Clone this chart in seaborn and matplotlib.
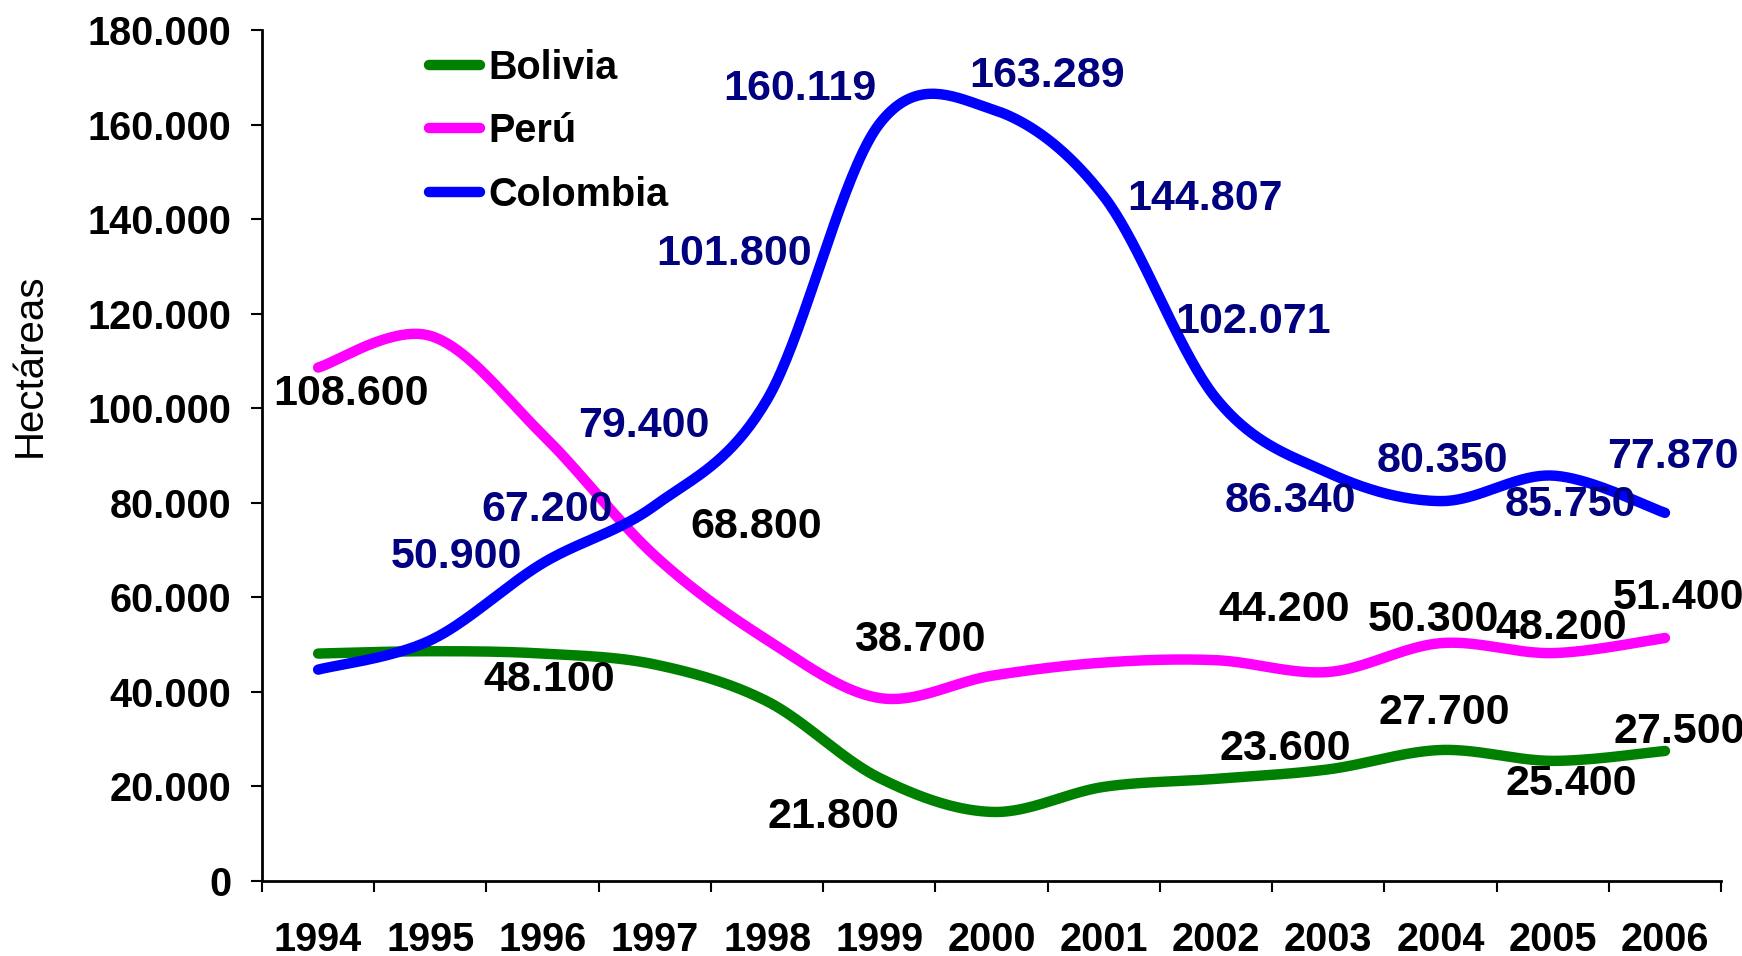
import numpy as np
import pandas as pd
import matplotlib
matplotlib.use("Agg")
import matplotlib.pyplot as plt
import seaborn as sns

# Coca cultivation (hectares) in the Andean countries
years = ['1994', '1995', '1996', '1997', '1998', '1999', '2000',
         '2001', '2002', '2003', '2004', '2005', '2006']
bolivia = [48100, 48600, 48100, 45800, 38000, 21800, 14600,
           19900, 21600, 23600, 27700, 25400, 27500]
peru = [108600, 115300, 94400, 68800, 51000, 38700, 43400,
        46200, 46700, 44200, 50300, 48200, 51400]
colombia = [44700, 50900, 67200, 79400, 101800, 160119, 163289,
            144807, 102071, 86340, 80350, 85750, 77870]

countries = ['Bolivia', 'Perú', 'Colombia']
series = [bolivia, peru, colombia]
colors = ['#008000', '#FF00FF', '#0000FF']
label_colors = ['black', 'black', '#000080']

# which points carry a data label, with label offsets in points (dx, dy)
bolivia_labels = {2: (5, -19), 5: (-33, -28), 9: (-31, 15), 10: (3, 27),
                  11: (13, -17), 12: (10, 14)}
peru_labels = {0: (24, -19), 3: (73, 21), 5: (29, 42), 9: (-32, 45),
               10: (-5, 17), 11: (6, 18), 12: (10, 29)}
colombia_labels = {1: (19, 60), 2: (3, 38), 3: (-8, 57), 4: (-24, 105),
                   5: (-57, 25), 6: (40, 24), 7: (73, -2), 8: (27, 55),
                   9: (-27, -20), 10: (1, 29), 11: (13, -21), 12: (6, 40)}
all_labels = [bolivia_labels, peru_labels, colombia_labels]


def smooth(vals, n=40):
    # Catmull-Rom curve through the points (like Excel's smoothed line)
    p = np.asarray(vals, dtype=float)
    x = np.arange(len(p), dtype=float)
    pp = np.concatenate([[p[0]], p, [p[-1]]])
    xx = np.concatenate([[x[0]], x, [x[-1]]])
    t = np.linspace(0, 1, n, endpoint=False)
    xs, ys = [], []
    for i in range(len(p) - 1):
        for arr, out in ((xx, xs), (pp, ys)):
            p0, p1, p2, p3 = arr[i], arr[i + 1], arr[i + 2], arr[i + 3]
            m1 = (p2 - p0) / 2
            m2 = (p3 - p1) / 2
            h00 = 2 * t**3 - 3 * t**2 + 1
            h10 = t**3 - 2 * t**2 + t
            h01 = -2 * t**3 + 3 * t**2
            h11 = t**3 - t**2
            out.extend(h00 * p1 + h10 * m1 + h01 * p2 + h11 * m2)
    xs.append(x[-1])
    ys.append(p[-1])
    return np.array(xs), np.array(ys)


frames = []
for name, vals in zip(countries, series):
    xs, ys = smooth(vals)
    frames.append(pd.DataFrame({'x': xs, 'ha': ys, 'país': name}))
df = pd.concat(frames, ignore_index=True)

sns.set_style("ticks")
plt.rcParams['font.family'] = ['Liberation Sans', 'DejaVu Sans']
plt.rcParams['text.color'] = 'black'
plt.rcParams['axes.labelcolor'] = 'black'
plt.rcParams['xtick.color'] = 'black'
plt.rcParams['ytick.color'] = 'black'

fig = plt.figure(figsize=(17.42, 9.56), dpi=100)
ax = fig.add_axes([0.1504, 0.0785, 0.8376, 0.8901])

sns.lineplot(data=df, x='x', y='ha', hue='país', hue_order=countries,
             palette=colors, linewidth=7.5, estimator=None, sort=False,
             ax=ax, solid_capstyle='round')

for vals, labs, lc in zip(series, all_labels, label_colors):
    for i, (dx, dy) in labs.items():
        txt = f"{vals[i]:,}".replace(",", ".")
        ax.annotate(txt, xy=(i, vals[i]), xytext=(dx, dy),
                    textcoords='offset points', ha='center', va='center',
                    fontsize=31, fontweight='bold', color=lc)

ax.set_xlim(-0.5, 12.5)
ax.set_ylim(0, 180000)
ax.set_yticks(np.arange(0, 180001, 20000))
ax.set_yticklabels([f"{v:,}".replace(",", ".") for v in range(0, 180001, 20000)])
ax.set_xticks(range(len(years)))
ax.set_xticklabels(years)
ax.set_xticks(np.arange(-0.5, 12.6, 1), minor=True)
ax.tick_params(axis='x', which='major', length=0, pad=29)
ax.tick_params(axis='x', which='minor', length=8, width=1.5, color='black')
ax.tick_params(axis='y', length=8, width=1.5, pad=14, color='black')
for lab in ax.get_xticklabels() + ax.get_yticklabels():
    lab.set_fontsize(28.5)
    lab.set_fontweight('bold')
    lab.set_color('black')

ax.set_xlabel('')
ax.set_ylabel('Hectáreas', fontsize=29)
ax.yaxis.set_label_coords(-0.146, 0.606)

sns.despine(ax=ax)
for s in ['left', 'bottom']:
    ax.spines[s].set_linewidth(2)
    ax.spines[s].set_color('black')

handles, labels = ax.get_legend_handles_labels()
ax.legend(handles, labels, loc='upper left', bbox_to_anchor=(0.09, 1.02),
          frameon=False, handlelength=1.3, handletextpad=0.2,
          labelspacing=0.65, prop={'size': 28.5, 'weight': 'bold'})

fig.savefig('out.png', dpi=100)
